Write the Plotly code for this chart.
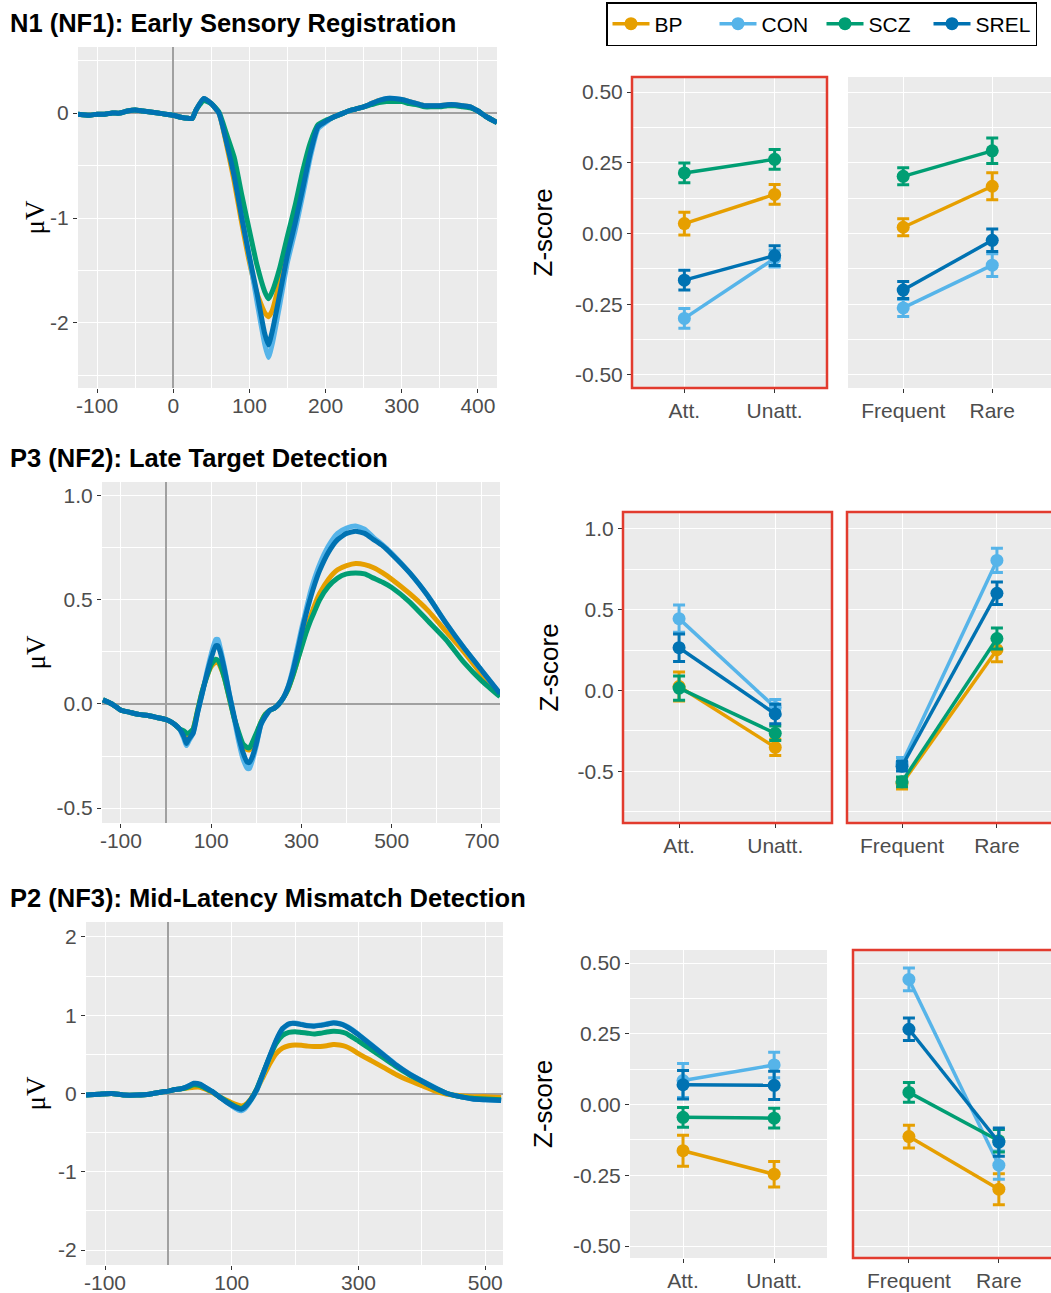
import plotly.graph_objects as go

W, H = 1051, 1293
groups = ["BP", "CON", "SCZ", "SREL"]
colors = {"BP": "#E69F00", "CON": "#56B4E9", "SCZ": "#009E73", "SREL": "#0072B2"}

# ---------------- ERP waveforms (µV) ----------------
t_n1 = [-125, -110, -100, -90, -80, -70, -60, -50, -40, -30, -20, -10, 0,
        10, 20, 25, 30, 40, 50, 60, 70, 80, 90, 100, 110, 120, 125, 130,
        140, 150, 160, 170, 180, 190, 200, 210, 220, 230, 240, 250, 260, 270,
        280, 290, 300, 310, 320, 330, 340, 350, 360, 370, 380, 390, 400, 410, 425]
n1_base = [-0.01, -0.02, -0.01, -0.01, 0.0, 0.0, 0.02, 0.03, 0.02, 0.01, 0.0, -0.01, -0.02,
           -0.04, -0.05, -0.05, 0.03]
n1_bp = n1_base + [0.14, 0.09, 0.0, -0.30, -0.65, -1.05, -1.42, -1.72, -1.90, -1.94, -1.88,
                   -1.60, -1.27, -1.00, -0.68, -0.35, -0.12, -0.08, -0.04, -0.01, 0.02, 0.04, 0.06,
                   0.09, 0.12, 0.13, 0.13, 0.13, 0.11, 0.09, 0.07, 0.07, 0.07, 0.08, 0.08, 0.07,
                   0.06, 0.02, -0.03, -0.09]
n1_con = n1_base + [0.14, 0.09, 0.0, -0.27, -0.58, -0.98, -1.38, -1.80, -2.20, -2.33, -2.20,
                    -1.82, -1.42, -1.12, -0.78, -0.42, -0.15, -0.09, -0.04, -0.01, 0.02, 0.04, 0.06,
                    0.09, 0.12, 0.14, 0.14, 0.13, 0.11, 0.09, 0.07, 0.07, 0.07, 0.08, 0.08, 0.07,
                    0.06, 0.02, -0.03, -0.09]
n1_scz = n1_base + [0.12, 0.09, 0.01, -0.20, -0.42, -0.78, -1.12, -1.45, -1.70, -1.77, -1.70,
                    -1.47, -1.17, -0.88, -0.55, -0.28, -0.11, -0.07, -0.04, -0.01, 0.02, 0.04, 0.06,
                    0.08, 0.10, 0.11, 0.11, 0.11, 0.09, 0.08, 0.06, 0.06, 0.06, 0.07, 0.07, 0.06,
                    0.05, 0.02, -0.03, -0.09]
n1_srel = n1_base + [0.14, 0.09, 0.0, -0.28, -0.60, -1.00, -1.37, -1.72, -2.10, -2.21, -2.08,
                     -1.72, -1.35, -1.05, -0.72, -0.38, -0.13, -0.08, -0.04, -0.01, 0.02, 0.04, 0.06,
                     0.09, 0.12, 0.14, 0.14, 0.13, 0.11, 0.09, 0.07, 0.07, 0.07, 0.08, 0.08, 0.07,
                     0.06, 0.02, -0.03, -0.09]

t_p3 = [-140, -120, -100, -80, -60, -40, -20, 0,
        10, 20, 30, 40, 45, 50, 60, 70, 80, 90, 100, 110, 115, 120, 130, 140, 150, 160,
        170, 180, 185, 190, 200, 210, 220, 230, 240, 250, 260, 270, 280, 290, 300, 310,
        320, 330, 340, 360, 380, 400, 420, 440, 460, 480, 500, 540, 580, 620, 660, 700, 740]
p3_base = [0.02, 0.0, -0.03, -0.04, -0.05, -0.055, -0.065, -0.075, -0.085, -0.10, -0.12]
p3_bp = p3_base + [-0.14, -0.16, -0.15, -0.12, -0.03, 0.06, 0.13, 0.18, 0.20, 0.20, 0.18,
                   0.12, 0.03, -0.06, -0.14, -0.20, -0.22, -0.22, -0.20, -0.15, -0.09, -0.05,
                   -0.03, -0.02, 0.0, 0.03, 0.07, 0.13, 0.20, 0.28, 0.35, 0.42, 0.48, 0.53,
                   0.60, 0.645, 0.665, 0.675, 0.67, 0.655, 0.63, 0.60, 0.53, 0.45, 0.35, 0.25,
                   0.14, 0.045]
p3_con = p3_base + [-0.17, -0.20, -0.18, -0.14, -0.04, 0.05, 0.15, 0.24, 0.31, 0.31, 0.27,
                    0.17, 0.05, -0.06, -0.17, -0.26, -0.31, -0.31, -0.28, -0.20, -0.10, -0.06,
                    -0.03, -0.02, 0.0, 0.03, 0.08, 0.16, 0.26, 0.36, 0.45, 0.54, 0.61, 0.67,
                    0.76, 0.82, 0.845, 0.855, 0.84, 0.80, 0.765, 0.725, 0.63, 0.52, 0.39, 0.27,
                    0.16, 0.05]
p3_scz = p3_base + [-0.13, -0.14, -0.14, -0.12, -0.03, 0.06, 0.13, 0.19, 0.215, 0.21, 0.19,
                    0.12, 0.03, -0.06, -0.13, -0.19, -0.21, -0.21, -0.19, -0.14, -0.09, -0.05,
                    -0.03, -0.02, 0.0, 0.03, 0.07, 0.13, 0.20, 0.27, 0.34, 0.40, 0.45, 0.50,
                    0.565, 0.605, 0.625, 0.63, 0.625, 0.605, 0.585, 0.56, 0.49, 0.40, 0.31, 0.20,
                    0.11, 0.035]
p3_srel = p3_base + [-0.16, -0.19, -0.17, -0.14, -0.04, 0.05, 0.14, 0.22, 0.28, 0.28, 0.25,
                     0.16, 0.05, -0.05, -0.15, -0.23, -0.28, -0.28, -0.26, -0.19, -0.10, -0.06,
                     -0.03, -0.02, 0.0, 0.03, 0.08, 0.15, 0.24, 0.34, 0.43, 0.51, 0.58, 0.64,
                     0.73, 0.79, 0.82, 0.83, 0.82, 0.79, 0.76, 0.72, 0.63, 0.52, 0.39, 0.27,
                     0.16, 0.05]

t_p2 = [-130, -110, -90, -70, -50, -30, -10, 0,
        10, 20, 30, 40, 50, 60, 70, 80, 90, 100, 110, 115,
        120, 130, 140, 150, 160, 170, 180, 190, 200, 210, 220, 230, 240, 250, 260, 270,
        280, 290, 300, 320, 340, 360, 380, 400, 420, 440, 460, 480, 500, 525]
p2_base = [-0.02, -0.01, 0.0, -0.02, -0.02, -0.01, 0.02, 0.03, 0.05, 0.06]
p2_bp = p2_base + [0.07, 0.08, 0.08, 0.05, 0.01, -0.04, -0.08, -0.12, -0.15, -0.16,
                   -0.15, -0.07, 0.06, 0.22, 0.38, 0.51, 0.58, 0.61, 0.62, 0.615, 0.605, 0.60,
                   0.60, 0.61, 0.625, 0.62, 0.60, 0.56, 0.51, 0.42, 0.33, 0.24, 0.165, 0.10,
                   0.035, -0.01, -0.03, -0.04, -0.04, -0.05]
p2_con = p2_base + [0.09, 0.12, 0.11, 0.07, 0.02, -0.04, -0.10, -0.16, -0.21, -0.22,
                    -0.20, -0.09, 0.05, 0.26, 0.47, 0.67, 0.82, 0.88, 0.90, 0.885, 0.87, 0.865,
                    0.875, 0.89, 0.905, 0.895, 0.865, 0.815, 0.755, 0.625, 0.495, 0.365, 0.255,
                    0.165, 0.08, 0.0, -0.04, -0.07, -0.08, -0.09]
p2_scz = p2_base + [0.08, 0.11, 0.10, 0.06, 0.02, -0.04, -0.09, -0.14, -0.18, -0.19,
                    -0.17, -0.08, 0.07, 0.27, 0.47, 0.64, 0.74, 0.78, 0.79, 0.78, 0.77, 0.76,
                    0.77, 0.785, 0.795, 0.79, 0.77, 0.72, 0.67, 0.56, 0.45, 0.34, 0.24, 0.155,
                    0.07, 0.0, -0.04, -0.06, -0.07, -0.08]
p2_srel = p2_base + [0.09, 0.13, 0.12, 0.07, 0.02, -0.04, -0.10, -0.15, -0.19, -0.20,
                     -0.18, -0.08, 0.06, 0.27, 0.48, 0.68, 0.83, 0.89, 0.895, 0.88, 0.865, 0.86,
                     0.87, 0.885, 0.90, 0.89, 0.86, 0.81, 0.75, 0.62, 0.49, 0.36, 0.25, 0.16,
                     0.075, 0.0, -0.04, -0.07, -0.08, -0.09]

# ---------------- Z-scores (mean, SE) ----------------
att_labels = ["Att.", "Unatt."]
freq_labels = ["Frequent", "Rare"]

n1_att = {"BP": [0.035, 0.138], "CON": [-0.300, -0.088], "SCZ": [0.214, 0.262], "SREL": [-0.165, -0.078]}
n1_att_se = {"BP": [0.040, 0.035], "CON": [0.035, 0.030], "SCZ": [0.035, 0.035], "SREL": [0.035, 0.035]}
n1_freq = {"BP": [0.022, 0.167], "CON": [-0.263, -0.112], "SCZ": [0.202, 0.292], "SREL": [-0.200, -0.024]}
n1_freq_se = {"BP": [0.030, 0.048], "CON": [0.030, 0.040], "SCZ": [0.030, 0.045], "SREL": [0.030, 0.040]}

p3_att = {"BP": [0.025, -0.352], "CON": [0.445, -0.105], "SCZ": [0.015, -0.265], "SREL": [0.265, -0.145]}
p3_att_se = {"BP": [0.090, 0.050], "CON": [0.085, 0.050], "SCZ": [0.075, 0.045], "SREL": [0.085, 0.060]}
p3_freq = {"BP": [-0.575, 0.253], "CON": [-0.450, 0.805], "SCZ": [-0.565, 0.322], "SREL": [-0.468, 0.602]}
p3_freq_se = {"BP": [0.035, 0.075], "CON": [0.035, 0.075], "SCZ": [0.030, 0.065], "SREL": [0.030, 0.070]}

p2_att = {"BP": [-0.163, -0.246], "CON": [0.085, 0.140], "SCZ": [-0.045, -0.048], "SREL": [0.070, 0.068]}
p2_att_se = {"BP": [0.055, 0.045], "CON": [0.060, 0.045], "SCZ": [0.035, 0.035], "SREL": [0.050, 0.050]}
p2_freq = {"BP": [-0.113, -0.299], "CON": [0.442, -0.214], "SCZ": [0.043, -0.128], "SREL": [0.266, -0.133]}
p2_freq_se = {"BP": [0.040, 0.055], "CON": [0.040, 0.050], "SCZ": [0.035, 0.040], "SREL": [0.040, 0.050]}

erp_rows = [
    (t_n1, {"BP": n1_bp, "CON": n1_con, "SCZ": n1_scz, "SREL": n1_srel}),
    (t_p3, {"BP": p3_bp, "CON": p3_con, "SCZ": p3_scz, "SREL": p3_srel}),
    (t_p2, {"BP": p2_bp, "CON": p2_con, "SCZ": p2_scz, "SREL": p2_srel}),
]
z_rows = [
    ((n1_att, n1_att_se), (n1_freq, n1_freq_se)),
    ((p3_att, p3_att_se), (p3_freq, p3_freq_se)),
    ((p2_att, p2_att_se), (p2_freq, p2_freq_se)),
]
titles = ["N1 (NF1): Early Sensory Registration",
          "P3 (NF2): Late Target Detection",
          "P2 (NF3): Mid-Latency Mismatch Detection"]

# tick values / labels
erp_xtv = [[-100, 0, 100, 200, 300, 400], [-100, 100, 300, 500, 700], [-100, 100, 300, 500]]
erp_xtt = [["-100", "0", "100", "200", "300", "400"], ["-100", "100", "300", "500", "700"],
           ["-100", "100", "300", "500"]]
erp_xminor = [[-50, 50, 150, 250, 350], [0, 200, 400, 600], [0, 200, 400]]
erp_ytv = [[-2, -1, 0], [-0.5, 0, 0.5, 1.0], [-2, -1, 0, 1, 2]]
erp_ytt = [["-2", "-1", "0"], ["-0.5", "0.0", "0.5", "1.0"], ["-2", "-1", "0", "1", "2"]]
erp_yminor = [[-2.5, -1.5, -0.5, 0.5], [-0.25, 0.25, 0.75], [-1.5, -0.5, 0.5, 1.5]]

# ---------------- layout geometry (pixels) ----------------
erp_box = [(78, 497, 47, 388), (102, 500, 482, 823), (86, 503, 922, 1265)]
erp_xr = [[-125, 425], [-142, 740], [-130, 528]]
erp_yr = [[-2.62, 0.63], [-0.572, 1.067], [-2.19, 2.19]]

z1_box = [(632, 827, 77, 388), (623, 832, 512, 823), (630, 827, 950, 1258)]
z2_box = [(848, 1051, 77, 388), (847, 1051, 512, 823), (853, 1051, 950, 1258)]
z1_xr = [[0.42, 2.58], [0.417, 2.59], [0.418, 2.58]]
z2_xr = [[0.38, 2.66], [0.42, 2.57], [0.378, 2.58]]
z_yr = [[-0.546, 0.553], [-0.82, 1.105], [-0.542, 0.546]]
z_ytv = [[-0.5, -0.25, 0, 0.25, 0.5], [-0.5, 0, 0.5, 1.0], [-0.5, -0.25, 0, 0.25, 0.5]]
z_ytt = [["-0.50", "-0.25", "0.00", "0.25", "0.50"], ["-0.5", "0.0", "0.5", "1.0"],
         ["-0.50", "-0.25", "0.00", "0.25", "0.50"]]
z_minor = [[-0.375, -0.125, 0.125, 0.375], [-0.75, -0.25, 0.25, 0.75], [-0.375, -0.125, 0.125, 0.375]]
red_boxes = [z1_box[0], z1_box[1], (847, 1060, 512, 823), (853, 1060, 950, 1258)]
ztitle_x = [543, 548, 543]

TICKFONT = dict(family="Liberation Sans, Arial, sans-serif", size=21, color="#4D4D4D")


def dom_x(a, b):
    return [a / W, min(b / W, 1.0)]


def dom_y(top, bottom):
    return [1 - bottom / H, 1 - top / H]


fig = go.Figure()
layout = {}
annotations = []
shapes = []
ax = 0


def base_axis():
    return dict(showline=False, ticks="outside", ticklen=4, tickwidth=1.2, tickcolor="#333333",
                tickfont=TICKFONT, showgrid=True, gridcolor="white", gridwidth=1.4,
                zeroline=False, fixedrange=True, automargin=False, tickmode="array")


def minor_axis(vals):
    return dict(tickmode="array", tickvals=vals, showgrid=True, gridcolor="white",
                gridwidth=0.7, ticks="")


for r in range(3):
    # ---- ERP panel ----
    ax += 1
    xa, ya = f"x{ax}", f"y{ax}"
    x0, x1, y0, y1 = erp_box[r]
    xd = base_axis()
    xd.update(domain=dom_x(x0, x1), range=erp_xr[r], anchor=ya, zeroline=True,
              zerolinecolor="#A0A0A0", zerolinewidth=1.6, ticklabelstandoff=-5,
              tickvals=erp_xtv[r], ticktext=erp_xtt[r], minor=minor_axis(erp_xminor[r]))
    yd = base_axis()
    yd.update(domain=dom_y(y0, y1), range=erp_yr[r], anchor=xa, zeroline=True,
              zerolinecolor="#A0A0A0", zerolinewidth=1.6,
              tickvals=erp_ytv[r], ticktext=erp_ytt[r], minor=minor_axis(erp_yminor[r]))
    layout["xaxis" if ax == 1 else f"xaxis{ax}"] = xd
    layout["yaxis" if ax == 1 else f"yaxis{ax}"] = yd
    tt, vals = erp_rows[r]
    for g in groups:
        fig.add_trace(go.Scatter(x=tt, y=vals[g], mode="lines", xaxis=xa, yaxis=ya,
                                 line=dict(color=colors[g], width=5, shape="spline", smoothing=0.5),
                                 showlegend=False, hoverinfo="skip"))
    annotations.append(dict(text=f"<b>{titles[r]}</b>", xref="paper", yref="paper",
                            x=8 / W, y=1 - (y0 - 24) / H, xanchor="left", yanchor="middle",
                            showarrow=False,
                            font=dict(family="Liberation Sans, Arial, sans-serif", size=25.5, color="black")))
    annotations.append(dict(text="μV", xref="paper", yref="paper", x=35 / W,
                            y=1 - ((y0 + y1) / 2) / H, xanchor="center", yanchor="middle",
                            textangle=-90, showarrow=False,
                            font=dict(family="Liberation Serif, Times New Roman, serif", size=27, color="black")))

    # ---- Z panels ----
    for k, (box, xr, labels) in enumerate([(z1_box[r], z1_xr[r], att_labels),
                                             (z2_box[r], z2_xr[r], freq_labels)]):
        ax += 1
        xa, ya = f"x{ax}", f"y{ax}"
        x0, x1, y0, y1 = box
        xd = base_axis()
        xd.update(domain=dom_x(x0, x1), range=xr, anchor=ya, tickvals=[1, 2], ticktext=labels,
                  tickangle=0)
        yd = base_axis()
        yd.update(domain=dom_y(y0, y1), range=z_yr[r], anchor=xa,
                  tickvals=z_ytv[r], ticktext=z_ytt[r], minor=minor_axis(z_minor[r]))
        if k == 1:
            yd.update(showticklabels=False, ticks="")
        layout[f"xaxis{ax}"] = xd
        layout[f"yaxis{ax}"] = yd
        means, ses = z_rows[r][k]
        for g in groups:
            fig.add_trace(go.Scatter(
                x=[1, 2], y=means[g], mode="lines+markers", xaxis=xa, yaxis=ya,
                name=g, legendgroup=g, showlegend=(r == 0 and k == 0),
                line=dict(color=colors[g], width=3.5),
                marker=dict(color=colors[g], size=13),
                error_y=dict(type="data", array=ses[g], color=colors[g], thickness=3, width=6),
                hoverinfo="skip"))
    y0, y1 = z1_box[r][2], z1_box[r][3]
    annotations.append(dict(text="Z-score", xref="paper", yref="paper", x=ztitle_x[r] / W,
                            y=1 - ((y0 + y1) / 2) / H, xanchor="center", yanchor="middle",
                            textangle=-90, showarrow=False,
                            font=dict(family="Liberation Sans, Arial, sans-serif", size=26, color="black")))

for (x0, x1, y0, y1) in red_boxes:
    shapes.append(dict(type="rect", xref="paper", yref="paper",
                       x0=x0 / W, x1=x1 / W, y0=1 - y1 / H, y1=1 - y0 / H,
                       line=dict(color="#E23B2E", width=2.5), fillcolor="rgba(0,0,0,0)", layer="above"))

layout.update(dict(
    template="none",
    width=W, height=H, margin=dict(l=0, r=0, t=0, b=0, autoexpand=False),
    paper_bgcolor="white", plot_bgcolor="#EBEBEB",
    annotations=annotations, shapes=shapes,
    legend=dict(orientation="h", x=606 / W, y=1 - 2 / H, xanchor="left", yanchor="top",
                bordercolor="black", borderwidth=1.5, bgcolor="white",
                font=dict(family="Liberation Sans, Arial, sans-serif", size=21, color="black"),
                itemwidth=37, entrywidth=55, entrywidthmode="pixels", traceorder="normal"),
))
fig.update_layout(**layout)
fig.write_html("out.html", config={"displayModeBar": False},
               post_script="document.body.style.margin='0px';document.body.style.overflow='hidden';")
